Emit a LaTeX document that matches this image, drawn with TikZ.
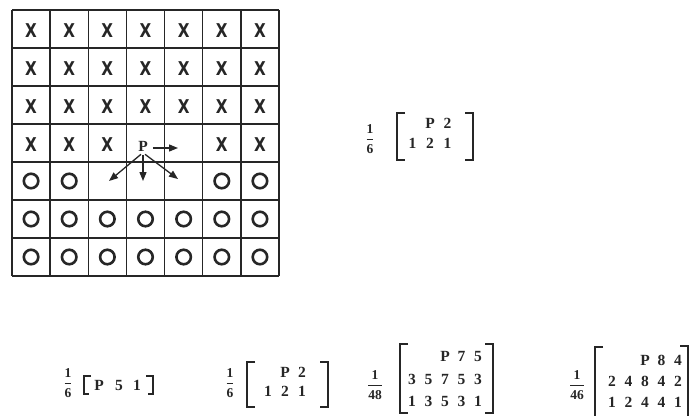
\documentclass[tikz,border=0pt]{standalone}
\usepackage{fontspec}
\usepackage{amsmath}
\setmainfont{Liberation Serif}
\newfontfamily\xfont{DejaVu Sans}
\usetikzlibrary{arrows.meta,calc}
\newcommand\myfrac[2]{$\genfrac{}{}{0.9pt}{0}{\textbf{#1}}{\textbf{#2}}$}

\begin{document}
\begin{tikzpicture}[x=1pt,y=-1pt,
  gridline/.style={line width=1.3pt, draw=black!85},
  xmark/.style={font=\xfont\bfseries\fontsize{19}{19}\selectfont, inner sep=0pt, text=black!85},
  omark/.style={circle, draw=black!85, line width=2.6pt, minimum size=14.5pt, inner sep=0pt},
  dig/.style={font=\bfseries\fontsize{15.5}{15.5}\selectfont, inner sep=0pt, text=black!85},
  fracnode/.style={font=\fontsize{13.5}{13.5}\selectfont, inner sep=0pt, text=black!85},
  brk/.style={line width=1.6pt, draw=black!85},
  arr/.style={line width=1.3pt, draw=black!85, -{Triangle[length=9pt,width=7pt]}}
]
\useasboundingbox (0,0) rectangle (693,415);
\fill[white] (0,0) rectangle (693,415);
\clip (0,0) rectangle (693,415);

% ---- grid ----
\foreach \i in {0,...,7} {
  \draw[gridline] ({12+38.143*\i},10) -- ({12+38.143*\i},276);
  \draw[gridline] (12,{10+38*\i}) -- (279,{10+38*\i});
}
% X marks
\foreach \r in {1,2,3} {
  \foreach \c in {1,...,7} {
    \node[xmark] (x-\r-\c) at ({12+38.143*(\c-0.5)},{10+38*(\r-0.5)+2}) {\scalebox{0.8}[1]{X}};
  }
}
\foreach \c in {1,2,3,6,7} {
  \node[xmark] (x-4-\c) at ({12+38.143*(\c-0.5)},{10+38*3.5+2}) {\scalebox{0.8}[1]{X}};
}
% O marks
\foreach \c in {1,2,6,7} {
  \node[omark] (o-5-\c) at ({12+38.143*(\c-0.5)},{10+38*4.5}) {};
}
\foreach \r in {6,7} {
  \foreach \c in {1,...,7} {
    \node[omark] (o-\r-\c) at ({12+38.143*(\c-0.5)},{10+38*(\r-0.5)}) {};
  }
}
% P and arrows
\node[dig] (p) at (143,146) {P};
\coordinate (aR) at (178,148);
\coordinate (aL) at (109,181);
\coordinate (aD) at (143,181);
\coordinate (aDR) at (178,179);
\draw[arr] ($(p.east)+(5,2)$) -- (aR);
\draw[arr] ($(p.south)+(-2,3)$) -- (aL);
\draw[arr] ($(p.south)+(0,4)$) -- (aD);
\draw[arr] ($(p.south)+(2,3)$) -- (aDR);

% ---- top matrix 1/6 ----
\node[fracnode] (f0) at (370,139) {\myfrac{1}{6}};
\draw[brk] (405,113) -- (397,113) -- (397,160) -- (405,160);
\draw[brk] (465,113) -- (473,113) -- (473,160) -- (465,160);
\node[dig] (t1-p) at (430,123) {P};
\node[dig] (t1-2) at (447.5,123) {2};
\foreach \d [count=\i] in {1,2,1} \node[dig] (t2-\i) at ({395+17.5*\i},143) {\d};

% ---- bottom A: 1/6 [P 5 1] ----
\node[fracnode] (fa) at (68,383) {\myfrac{1}{6}};
\draw[brk] (91,376) -- (84,376) -- (84,394) -- (89,394);
\node[dig] (a-p) at (99,385) {P};
\node[dig] (a-5) at (119,385) {5};
\node[dig] (a-1) at (137,385) {1};
\draw[brk] (146,376) -- (153,376) -- (153,394) -- (148,394);

% ---- bottom B: 1/6 matrix ----
\node[fracnode] (fb) at (230,383) {\myfrac{1}{6}};
\draw[brk] (255,362) -- (247,362) -- (247,407) -- (255,407);
\draw[brk] (320,362) -- (328,362) -- (328,407) -- (320,407);
\node[dig] (b1-p) at (285,372) {P};
\node[dig] (b1-2) at (302,372) {2};
\foreach \d [count=\i] in {1,2,1} \node[dig] (b2-\i) at ({251+17*\i},391) {\d};

% ---- bottom C: 1/48 matrix ----
\node[fracnode] (fc) at (375,385) {\myfrac{1}{48}};
\draw[brk] (408,344) -- (400,344) -- (400,413) -- (408,413);
\draw[brk] (485,344) -- (493,344) -- (493,413) -- (485,413);
\foreach \d [count=\i] in {P,7,5} \node[dig] (c1-\i) at ({428.5+16.5*\i},356) {\d};
\foreach \d [count=\i] in {3,5,7,5,3} \node[dig] (c2-\i) at ({395.5+16.5*\i},379) {\d};
\foreach \d [count=\i] in {1,3,5,3,1} \node[dig] (c3-\i) at ({395.5+16.5*\i},401) {\d};

% ---- bottom D: 1/46 matrix ----
\node[fracnode] (fd) at (577,385) {\myfrac{1}{46}};
\draw[brk] (603,347) -- (595,347) -- (595,425);
\draw[brk] (680,346) -- (688,346) -- (688,425);
\foreach \d [count=\i] in {P,8,4} \node[dig] (d1-\i) at ({628.5+16.5*\i},360) {\d};
\foreach \d [count=\i] in {2,4,8,4,2} \node[dig] (d2-\i) at ({595.5+16.5*\i},381) {\d};
\foreach \d [count=\i] in {1,2,4,4,1} \node[dig] (d3-\i) at ({595.5+16.5*\i},402) {\d};
\end{tikzpicture}
\end{document}
